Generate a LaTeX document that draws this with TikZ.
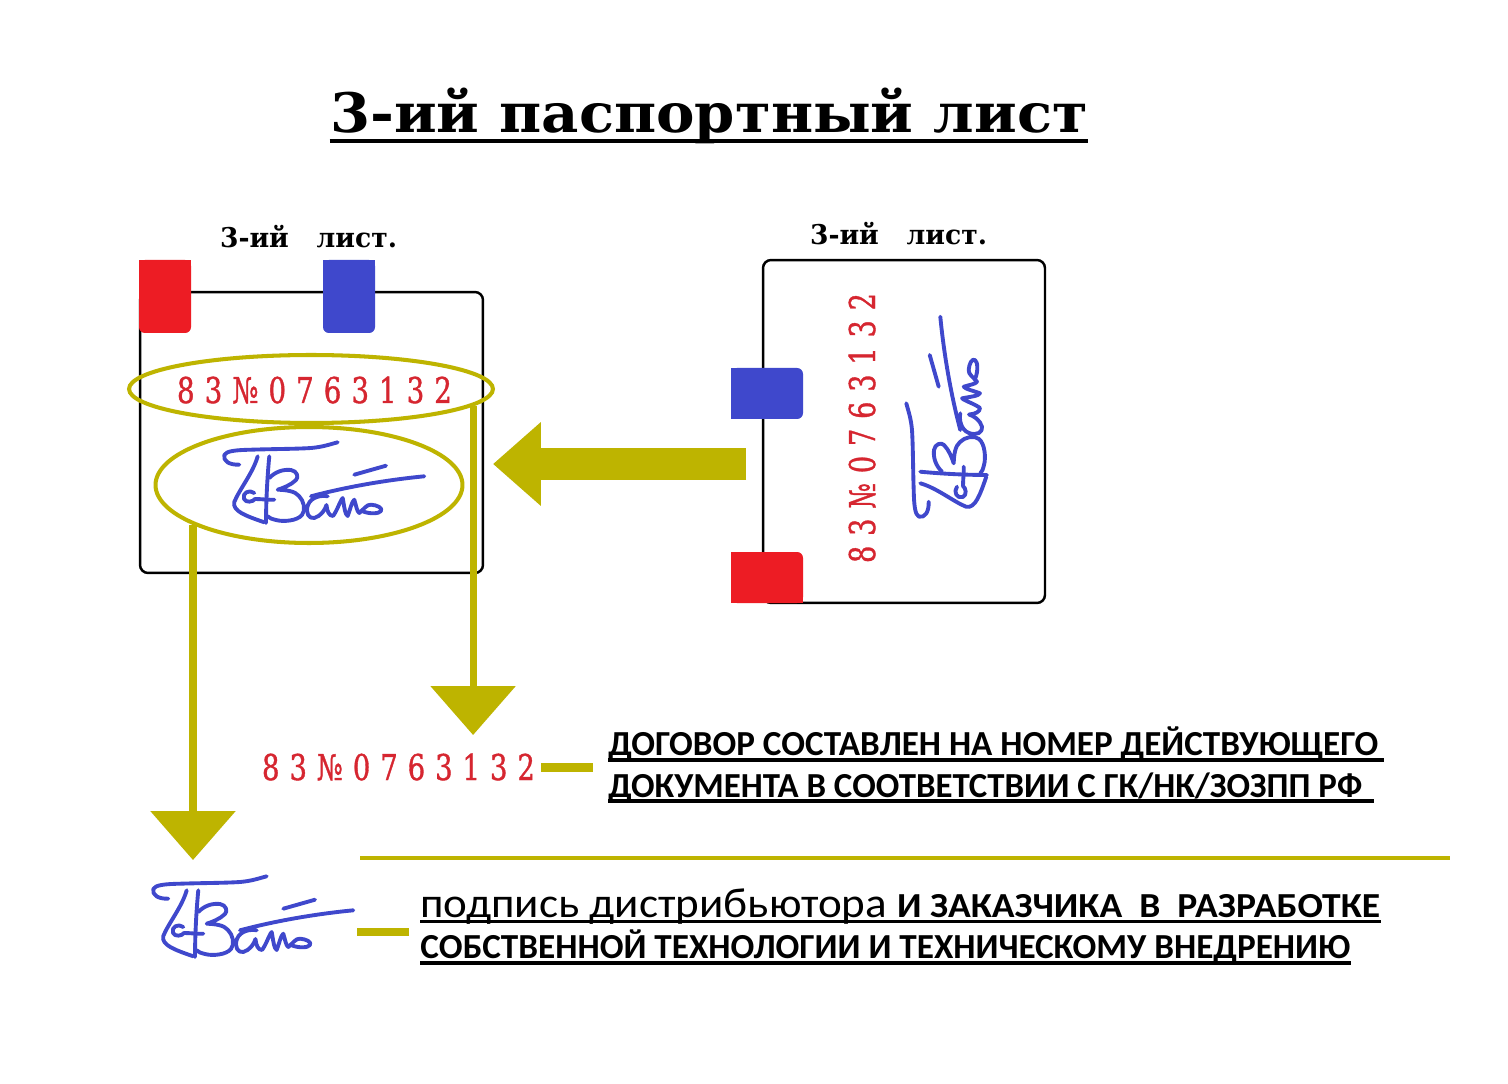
\documentclass[tikz,border=0pt]{standalone}
\usepackage{fontspec}
\usepackage{graphicx}
\setmainfont{DejaVu Serif}
\newfontfamily\numfont[FakeBold=1.2]{DejaVu Serif}
\newfontfamily\bodyfont{Carlito}
\usetikzlibrary{shapes.geometric,arrows.meta}
\definecolor{ol}{RGB}{190,180,0}
\definecolor{tabred}{RGB}{237,28,36}
\definecolor{tabblue}{RGB}{63,72,204}
\definecolor{stampred}{RGB}{214,38,48}
\definecolor{sigblue}{RGB}{63,72,204}
\newcommand\fitw[2]{\resizebox{#1}{\height}{#2}}
\newcommand\gp{\kern.36em}
\newcommand\stampnum{8\gp 3\gp №\gp 0\gp 7\gp 6\gp 3\gp 1\gp 3\gp 2}
\tikzset{
  sheet/.style={draw=black, line width=1.4pt, rounded corners=0.16cm, fill=white, inner sep=0},
  ring/.style={ellipse, draw=ol, line width=2.3pt, inner sep=0},
  numtext/.style={inner sep=0, text=stampred, font=\numfont\fontsize{20.2pt}{21pt}\selectfont},
  labtext/.style={inner sep=0, font=\fontsize{15.5pt}{16pt}\selectfont\bfseries},
  boldtext/.style={inner sep=0, font=\bodyfont\bfseries\fontsize{20pt}{20pt}\selectfont},
  ul/.style={line width=1.9pt},
  downarrow/.style={draw=ol, line width=4pt, -{Triangle[width=47.6pt,length=27.8pt]}},
  stub/.style={draw=ol, line width=5.1pt},
  sigstroke/.style={draw=sigblue, line width=2.2pt, line cap=round, line join=round},
  sig/.pic={
    \draw[sigstroke] (-81.7,-20.3) .. controls (-92,-20) and (-98,-24) .. (-96.7,-30)
       .. controls (-95,-34) and (-85,-35) .. (-70,-35.3)
       .. controls (-50,-36) and (-25,-36) .. (-10,-37)
       .. controls (2,-38) and (10,-41) .. (16.7,-42.7);
    \draw[sigstroke] (-63.3,-28.7) .. controls (-68,-12) and (-82,5) .. (-86.7,17)
       .. controls (-89,26) and (-75,31) .. (-56.7,37.3);
    \draw[sigstroke] (-51.7,-28.7) .. controls (-54,-5) and (-55,20) .. (-55,38);
    \draw[sigstroke] (-66.7,8) .. controls (-72,4) and (-79,8) .. (-77,14)
       .. controls (-75,18) and (-68,17) .. (-66,14)
       .. controls (-60,14) and (-52,15) .. (-46.7,14.7);
    \draw[sigstroke] (-51.7,-7) .. controls (-46,-13) and (-38,-16) .. (-30,-15)
       .. controls (-24,-14) and (-22,-8) .. (-25,-5)
       .. controls (-30,0) and (-38,3) .. (-43.3,4.7)
       .. controls (-35,5) and (-26,6) .. (-22,11)
       .. controls (-17,16) and (-15,25) .. (-19,30)
       .. controls (-24,36) and (-38,37) .. (-45,35)
       .. controls (-49,34) and (-52,33) .. (-53.3,31.3);
    \draw[sigstroke] (6.7,11.3) .. controls (0,10) and (-10,12) .. (-13,20)
       .. controls (-16,28) and (-12,34) .. (-6.7,33)
       .. controls (0,31) and (4,25) .. (5.5,20)
       .. controls (6,26) and (8,31) .. (12,31)
       .. controls (16,26) and (19,16) .. (21.7,13)
       .. controls (23,20) and (24,30) .. (26.7,31)
       .. controls (29,25) and (31,16) .. (33.3,14.7)
       .. controls (35,20) and (36,27) .. (38.3,28)
       .. controls (42,25) and (46,19) .. (50,19.7)
       .. controls (56,20) and (62,23) .. (60,26)
       .. controls (58,29) and (48,29) .. (41.7,26.3);
    \draw[sigstroke] (-10,11.3) .. controls (25,2) and (65,-5) .. (103.3,-8.7);
    \draw[sigstroke] (33.3,-10.3) -- (65,-19.3);
  }
}
\begin{document}
\begin{tikzpicture}[x=0.02cm, y=-0.02cm]
\useasboundingbox (0,0) rectangle (1508,1084);
\fill[white] (0,0) rectangle (1508,1084);

% title
\node[inner sep=0, anchor=base] (title) at (709,133)
  {\fitw{15.16cm}{\fontsize{31pt}{31pt}\selectfont\bfseries 3-ий паспортный лист}};
\draw[line width=2.27pt] ([yshift=-0.16cm]title.base west) -- ([yshift=-0.16cm]title.base east);

% sheets
\node[sheet, minimum width=6.86cm, minimum height=5.62cm] (L) at (311.5,432.5) {};
\node[sheet, minimum width=5.64cm, minimum height=6.86cm] (R) at (904,431.5) {};

\node[labtext, anchor=base] (labL) at (308.5,248) {\fitw{3.54cm}{3-ий\ \ \ лист.}};
\node[labtext, anchor=base] (labR) at (898.5,245) {\fitw{3.54cm}{3-ий\ \ \ лист.}};

% tabs left sheet
\fill[tabred, rounded corners=3.4pt] (139,260) rectangle (191,333);
\fill[tabred] (139,260) rectangle (191,300);
\fill[tabblue, rounded corners=3.4pt] (323,260) rectangle (375,333);
\fill[tabblue] (323,260) rectangle (375,300);
% tabs right sheet
\fill[tabblue, rounded corners=3.4pt] (731,368) rectangle (803,419);
\fill[tabblue] (731,368) rectangle (770,419);
\fill[tabred, rounded corners=3.4pt] (731,552) rectangle (803,603);
\fill[tabred] (731,552) rectangle (770,603);
\fill[tabred] (731,585) rectangle (803,603);

% ellipses
\node[ring, minimum width=7.28cm, minimum height=1.36cm] (E1) at (311,389) {};
\node[ring, minimum width=6.14cm, minimum height=2.32cm] (E2) at (309,485) {};

% stamp numbers
\node[numtext, anchor=base] (N1) at (314.5,403) {\fitw{5.5cm}{\stampnum}};
\node[numtext, anchor=base] (N2) at (398.5,780) {\fitw{5.46cm}{\stampnum}};
\node[numtext, anchor=base, rotate=90] (N3) at (875,428) {\fitw{5.4cm}{\stampnum}};

% signatures
\coordinate (S1) at (321,485);
\coordinate (S2) at (949,420);
\coordinate (S3) at (250,919);
\pic at (S1) {sig};
\pic[rotate=90] at (S2) {sig};
\pic at (S3) {sig};

% big arrow between sheets
\coordinate (aS) at (746,464);
\coordinate (aE) at (493,464);
\draw[ol, line width=18.1pt, -{Triangle[width=45.9pt,length=27.2pt]}] (aS) -- (aE);

% down arrows
\coordinate (tip1) at (470,735);
\coordinate (tip2) at (196,860);
\draw[downarrow] (E1.-6) -- (E1.-6 |- tip1);
\draw[downarrow] (E2.199) -- (E2.199 |- tip2);

% texts
\node[boldtext, anchor=base west] (T1a) at (608,755)
  {\fitw{15.4cm}{ДОГОВОР СОСТАВЛЕН НА НОМЕР ДЕЙСТВУЮЩЕГО}};
\node[boldtext, anchor=base west] (T1b) at (608,797)
  {\fitw{15.08cm}{ДОКУМЕНТА В СООТВЕТСТВИИ С ГК/НК/ЗОЗПП РФ}};
\draw[ul] ([yshift=-0.1cm]T1a.base west) -- ([yshift=-0.1cm,xshift=0.1cm]T1a.base east);
\draw[ul] ([yshift=-0.08cm]T1b.base west) -- ([yshift=-0.08cm,xshift=0.22cm]T1b.base east);

\node[inner sep=0, anchor=base west] (T2a) at (420,917)
  {\fitw{19.2cm}{{\bodyfont\fontsize{24pt}{24pt}\selectfont подпись дистрибьютора }{\bodyfont\bfseries\fontsize{20pt}{20pt}\selectfont И ЗАКАЗЧИКА\ \ В\ \ РАЗРАБОТКЕ}}};
\node[boldtext, anchor=base west] (T2b) at (420,958)
  {\fitw{18.6cm}{СОБСТВЕННОЙ ТЕХНОЛОГИИ И ТЕХНИЧЕСКОМУ ВНЕДРЕНИЮ}};
\draw[ul] ([yshift=-0.09cm]T2a.base west) -- ([yshift=-0.09cm]T2a.base east);
\draw[ul] ([yshift=-0.1cm]T2b.base west) -- ([yshift=-0.1cm]T2b.base east);

% stubs and separator
\draw[stub] ([xshift=0.12cm]N2.east) -- ([xshift=-0.3cm]N2.east -| T1a.west);
\draw[stub] ([xshift=-0.22cm,yshift=-0.3cm]T2a.base west) -- ([xshift=-1.26cm,yshift=-0.3cm]T2a.base west);
\coordinate (sepA) at (360,858);
\coordinate (sepB) at (1450,858);
\draw[ol, line width=2pt] (sepA) -- (sepB);
\end{tikzpicture}
\end{document}
